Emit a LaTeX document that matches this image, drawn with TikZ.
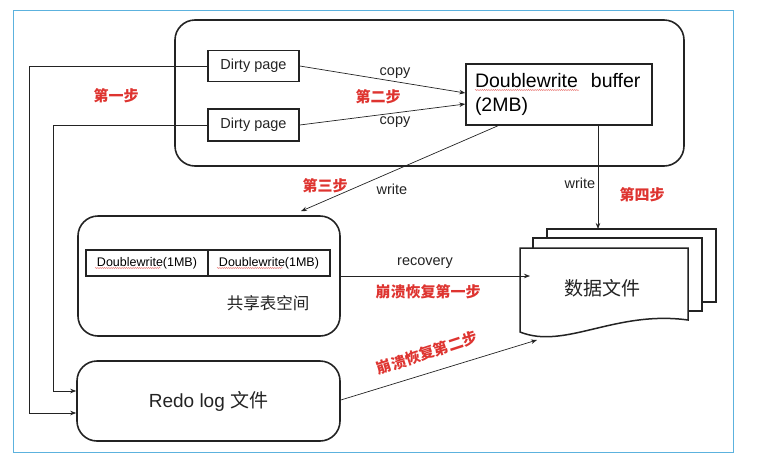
\documentclass[tikz,border=0pt]{standalone}
\usepackage{fontspec}
\setmainfont{Liberation Sans}
\newfontfamily\cjk{Noto Sans CJK SC}
\usetikzlibrary{arrows.meta, decorations.pathmorphing}
\definecolor{stepred}{RGB}{222,52,48}
\definecolor{framebl}{RGB}{92,178,222}
\definecolor{inkgray}{RGB}{35,35,35}

\begin{document}
\begin{tikzpicture}[x=1pt, y=-1pt,
  panel/.style={draw=inkgray, line width=1.6pt, rounded corners=20pt},
  box/.style={draw=inkgray, line width=1.5pt, inner sep=0pt},
  cell/.style={draw=inkgray, line width=1.4pt, minimum width=122pt, minimum height=26pt,
               inner sep=0pt, font=\fontsize{12.5}{14}\selectfont},
  page/.style={draw=inkgray, line width=1.5pt, fill=white},
  flow/.style={draw=inkgray, line width=0.7pt, -{Stealth[length=6pt, width=4.5pt]}},
  lbl/.style={font=\fontsize{14.5}{16}\selectfont, text=inkgray, inner sep=0pt},
  steplbl/.style={font=\cjk\bfseries\fontsize{15}{17}\selectfont, text=stepred, inner sep=0pt},
  spell/.style={draw=stepred!80, line width=0.4pt, decorate,
                decoration={snake, amplitude=0.5pt, segment length=2.2pt}}]
  \useasboundingbox (0,0) rectangle (771,464);
  \draw[framebl, line width=1pt] (13,10) rectangle (733,452);

  % buffer pool
  \node[panel, minimum width=509pt, minimum height=146pt] (pool) at (429.5,93) {};
  \node[box, lbl, minimum width=91pt, minimum height=31pt] (dp1) at (253.5,66) {Dirty page};
  \node[box, lbl, minimum width=91pt, minimum height=32pt] (dp2) at (253.5,125) {Dirty page};
  \node[box, minimum width=186pt, minimum height=61pt, text width=168pt, align=left,
        font=\fontsize{19.5}{24}\selectfont] (buf) at (559,94.5) {Doublewrite\ \ buffer\\(2MB)};

  % shared tablespace
  \node[panel, minimum width=262pt, minimum height=120pt] (shared) at (209,276) {};
  \foreach \i/\x in {1/147, 2/269}
    \node[cell] (cell\i) at (\x,263) {Doublewrite(1MB)};
  \node[font=\cjk\fontsize{16.5}{18}\selectfont, text=inkgray] (sharedlbl) at (268,303) {共享表空间};

  % redo log
  \node[panel, minimum width=263pt, minimum height=80pt, text=inkgray,
        font=\fontsize{19}{22}\selectfont] (redo) at (208.5,401) {Redo log {\cjk 文件}};

  % data files
  \foreach \x/\y in {547/229, 533/238}
    \draw[page] (\x,\y) rectangle ++(169,73);
  \draw[page] (520,248) -- (688,248) -- (688,320) .. controls (615,310) and (565,350) .. (520,332) -- cycle;
  \node[font=\cjk\fontsize{19}{22}\selectfont, text=inkgray] (data) at (602,288) {数据文件};
  \coordinate (dataN) at (598,229);
  \coordinate (dataW) at (530,276);
  \coordinate (dataS) at (537,340);

  % connectors
  \draw[flow] (dp1.east) -- ([yshift=1.5pt]buf.west);
  \draw[flow] (dp2.east) -- ([yshift=-9.5pt]buf.west);
  \draw[flow] ([xshift=-61pt]buf.south) -- ([xshift=92pt, yshift=4pt]shared.north);
  \draw[flow] ([xshift=39pt]buf.south) -- (dataN);
  \draw[flow] (shared.east) -- (dataW);
  \draw[flow] ([yshift=1pt]redo.east) -- (dataS);
  \draw[flow] (dp1.west) -- ++(-178,0) |- ([yshift=-12pt]redo.west);
  \draw[flow] (dp2.west) -- ++(-154,0) |- ([yshift=10pt]redo.west);

  % labels
  \node[lbl] (copy1) at (395,73) {copy};
  \node[lbl] (copy2) at (395,122) {copy};
  \node[steplbl] (step1) at (116,96) {第一步};
  \node[steplbl] (step2) at (378,97) {第二步};
  \node[steplbl] (step3) at (325,186) {第三步};
  \node[lbl] (write1) at (392,189) {write};
  \node[lbl] (write2) at (580,183) {write};
  \node[steplbl] (step4) at (642,195) {第四步};
  \node[lbl] (recov) at (425,263) {recovery};
  \node[steplbl] (crash1) at (428,292) {崩溃恢复第一步};
  \node[steplbl, rotate=18] (crash2) at (427,353) {崩溃恢复第二步};

  % spell-check marks
  \draw[spell] (475,90) -- (579,90);
  \draw[spell] (95,268) -- (161,268);
  \draw[spell] (217,268) -- (283,268);
\end{tikzpicture}
\end{document}
